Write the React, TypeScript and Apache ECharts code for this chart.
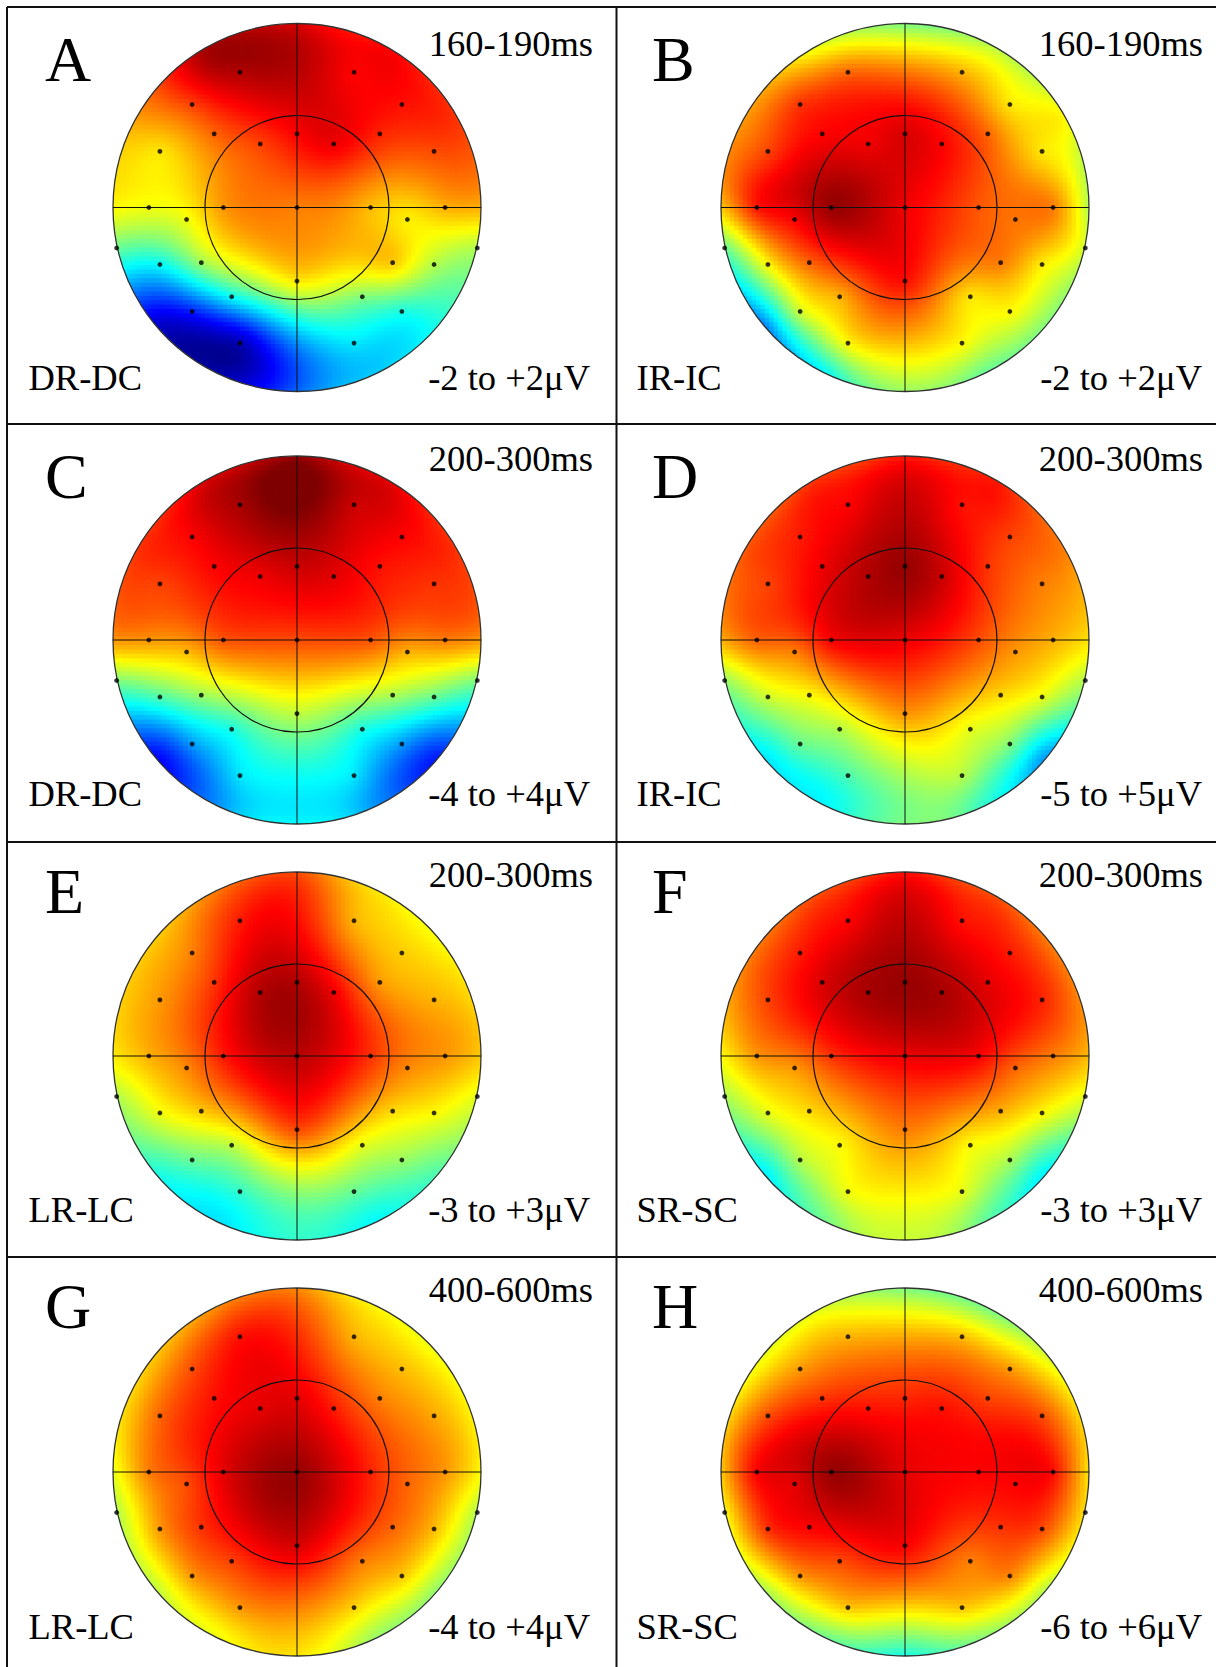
import { useEffect, useRef } from 'react';
import * as echarts from 'echarts';

/* ───── Figure size / layout ───── */
const W = 1216;
const H = 1667;
const R = 184;                       // head radius, px
const colCx = [297, 905];            // head centre x per column
const rowCy = [207.5, 640, 1056, 1472]; // head centre y per row
const colDivider = 616.5;
const rowDividers = [424, 842, 1257];
const letterX = [45, 652];
const condX = [28.5, 636.5];
const timeRight = [593, 1203];
const rangeRight = [590, 1202];
const letterBase = [81, 498, 913, 1328];
const timeBase = [56, 471, 887, 1302];
const condBase = [390, 806, 1222, 1639];
const SERIF = '"Liberation Serif", "Times New Roman", serif';

/* ───── Panel labels ───── */
const letters = ['A', 'B', 'C', 'D', 'E', 'F', 'G', 'H'];
const windows = ['160-190ms', '160-190ms', '200-300ms', '200-300ms', '200-300ms', '200-300ms', '400-600ms', '400-600ms'];
const contrasts = ['DR-DC', 'IR-IC', 'DR-DC', 'IR-IC', 'LR-LC', 'SR-SC', 'LR-LC', 'SR-SC'];
const ranges = [2, 2, 4, 5, 3, 3, 4, 6];

/* ───── Electrode montage (unit head circle, nose up) ───── */
const elecX = [-0.31, 0.31, -0.57, 0.57, -0.45, 0, 0.45, -0.2, 0.2, -0.745, 0.745, -0.805, -0.4, 0, 0.4, 0.805, -0.6, 0.6, -0.98, 0.98, -0.745, -0.52, 0.52, 0.745, 0, -0.355, 0.355, -0.57, 0.57, -0.31, 0.31];
const elecY = [0.735, 0.735, 0.56, 0.56, 0.4, 0.4, 0.4, 0.345, 0.345, 0.305, 0.305, 0, 0, 0, 0, 0, -0.065, -0.065, -0.22, -0.22, -0.31, -0.3, -0.3, -0.31, -0.4, -0.485, -0.485, -0.565, -0.565, -0.737, -0.737];
// rim samples (deg)
const rimAngles = [90, 60, 120, 30, 150, 0, 180, -40, -140, -65, -115, -90];

/* ───── Values, as a fraction of each panel's ± range ───── */
const valsA = [0.9, 0.75, 0.62, 0.72, 0.55, 0.75, 0.68, 0.62, 0.78, 0.3, 0.6, 0.22, 0.45, 0.5, 0.38, 0.4, 0.22, 0.28, -0.05, 0.1, -0.25, 0.05, 0.35, 0.1, 0.28, -0.25, 0.0, -0.7, -0.2, -0.9, -0.3];
const rimA = [0.82, 0.75, 0.92, 0.65, 0.45, 0.4, 0.25, -0.2, -0.85, -0.35, -0.9, -0.55];
const valsB = [0.55, 0.4, 0.65, 0.3, 0.75, 0.82, 0.55, 0.78, 0.75, 0.62, 0.3, 0.7, 0.95, 0.78, 0.58, 0.5, 0.75, 0.52, -0.05, 0.15, 0.25, 0.55, 0.5, 0.28, 0.72, 0.4, 0.3, 0.15, 0.25, 0.25, 0.25];
const rimB = [0.0, 0.12, 0.22, 0.25, 0.45, 0.1, 0.35, 0.0, -0.5, -0.05, -0.25, 0.05];
const valsC = [0.92, 0.85, 0.75, 0.75, 0.75, 0.85, 0.72, 0.78, 0.8, 0.62, 0.65, 0.45, 0.58, 0.6, 0.58, 0.5, 0.38, 0.4, 0.0, 0.0, -0.1, 0.05, 0.08, -0.05, 0.12, -0.2, -0.2, -0.45, -0.45, -0.3, -0.3];
const rimC = [0.95, 0.8, 0.82, 0.65, 0.65, 0.45, 0.45, -0.7, -0.75, -0.45, -0.45, -0.25];
const valsD = [0.75, 0.72, 0.7, 0.62, 0.78, 0.95, 0.65, 0.9, 0.85, 0.62, 0.5, 0.55, 0.75, 0.78, 0.6, 0.4, 0.5, 0.45, 0.05, 0.1, 0.15, 0.25, 0.32, 0.2, 0.45, 0.1, 0.2, -0.05, 0.0, -0.1, 0.1];
const rimD = [0.7, 0.7, 0.65, 0.5, 0.58, 0.3, 0.4, -0.45, -0.3, -0.15, -0.25, 0.0];
const valsE = [0.7, 0.4, 0.5, 0.35, 0.65, 0.9, 0.45, 0.9, 0.78, 0.45, 0.4, 0.4, 0.7, 0.88, 0.65, 0.45, 0.48, 0.48, 0.1, 0.2, 0.22, 0.35, 0.32, 0.25, 0.6, 0.12, 0.2, -0.05, 0.05, -0.15, -0.05];
const rimE = [0.6, 0.28, 0.48, 0.28, 0.35, 0.35, 0.28, -0.1, -0.2, -0.25, -0.3, -0.15];
const valsF = [0.75, 0.72, 0.7, 0.7, 0.82, 0.95, 0.8, 0.92, 0.92, 0.62, 0.68, 0.45, 0.65, 0.78, 0.75, 0.5, 0.45, 0.55, 0.08, 0.2, 0.2, 0.32, 0.4, 0.25, 0.5, 0.25, 0.25, 0.1, 0.08, 0.22, 0.2];
const rimF = [0.72, 0.6, 0.6, 0.5, 0.5, 0.38, 0.25, -0.28, -0.28, -0.05, -0.02, 0.15];
const valsG = [0.72, 0.4, 0.6, 0.38, 0.72, 0.8, 0.5, 0.8, 0.7, 0.55, 0.42, 0.5, 0.8, 0.95, 0.68, 0.45, 0.6, 0.55, 0.1, 0.1, 0.45, 0.65, 0.55, 0.38, 0.82, 0.62, 0.5, 0.45, 0.35, 0.45, 0.33];
const rimG = [0.48, 0.25, 0.45, 0.25, 0.33, 0.25, 0.2, 0.03, 0.12, 0.05, 0.22, 0.3];
const valsH = [0.4, 0.38, 0.45, 0.45, 0.65, 0.68, 0.62, 0.72, 0.72, 0.6, 0.6, 0.75, 0.95, 0.8, 0.75, 0.72, 0.8, 0.75, 0.25, 0.3, 0.65, 0.75, 0.65, 0.6, 0.75, 0.6, 0.5, 0.45, 0.48, 0.35, 0.35];
const rimH = [0.0, 0.0, 0.2, 0.25, 0.25, 0.3, 0.35, 0.1, 0.08, 0.0, -0.05, -0.2];

const panelVals = [valsA, valsB, valsC, valsD, valsE, valsF, valsG, valsH];
const panelRims = [rimA, rimB, rimC, rimD, rimE, rimF, rimG, rimH];

// EEGLAB-style jet
const JET = ['#00007f', '#0000ff', '#007fff', '#00ffff', '#7fff7f', '#ffff00', '#ff7f00', '#ff0000', '#7f0000'];

/* ───── Biharmonic spline (topoplot 'v4') ───── */
function fitSurface(xs: number[], ys: number[], vs: number[]) {
  const n = xs.length;
  const g = (d: number) => (d < 1e-9 ? 0 : d * d * (Math.log(d) - 1));
  const A = xs.map((_, i) => xs.map((__, j) => g(Math.hypot(xs[i] - xs[j], ys[i] - ys[j]))));
  const b = vs.slice();
  for (let k = 0; k < n; k++) {
    let p = k;
    for (let i = k + 1; i < n; i++) if (Math.abs(A[i][k]) > Math.abs(A[p][k])) p = i;
    [A[k], A[p]] = [A[p], A[k]];
    [b[k], b[p]] = [b[p], b[k]];
    for (let i = k + 1; i < n; i++) {
      const f = A[i][k] / A[k][k];
      if (!f) continue;
      for (let j = k; j < n; j++) A[i][j] -= f * A[k][j];
      b[i] -= f * b[k];
    }
  }
  const w = new Array(n).fill(0);
  for (let i = n - 1; i >= 0; i--) {
    let s = b[i];
    for (let j = i + 1; j < n; j++) s -= A[i][j] * w[j];
    w[i] = s / A[i][i];
  }
  return (x: number, y: number) => {
    let s = 0;
    for (let j = 0; j < n; j++) s += w[j] * g(Math.hypot(x - xs[j], y - ys[j]));
    return s;
  };
}

const NCELL = 84;
const STEP = 2 / NCELL;

function panelCells(i: number) {
  const rimX = rimAngles.map(a => Math.cos((a * Math.PI) / 180));
  const rimY = rimAngles.map(a => Math.sin((a * Math.PI) / 180));
  const f = fitSurface([...elecX, ...rimX], [...elecY, ...rimY], [...panelVals[i], ...panelRims[i]]);
  const out: number[][] = [];
  for (let a = 0; a < NCELL; a++) {
    for (let b = 0; b < NCELL; b++) {
      const x = -1 + (a + 0.5) * STEP;
      const y = -1 + (b + 0.5) * STEP;
      if (Math.hypot(x, y) > 1 + STEP * 0.75) continue;
      out.push([x, y, f(x, y)]);
    }
  }
  return out;
}

function buildOption() {
  const grid: any[] = [];
  const xAxis: any[] = [];
  const yAxis: any[] = [];
  const cellSeries: any[] = [];
  const overlaySeries: any[] = [];
  const dotSeries: any[] = [];
  const graphic: any[] = [];

  letters.forEach((_, i) => {
    const c = i % 2;
    const r = Math.floor(i / 2);
    grid.push({ left: colCx[c] - R, top: rowCy[r] - R, width: 2 * R, height: 2 * R });
    xAxis.push({ type: 'value', gridIndex: i, min: -1, max: 1, show: false });
    yAxis.push({ type: 'value', gridIndex: i, min: -1, max: 1, show: false });

    cellSeries.push({
      type: 'custom', xAxisIndex: i, yAxisIndex: i, silent: true, z: 1, progressive: 0,
      data: panelCells(i),
      renderItem: (_p: any, api: any) => {
        const p = api.coord([api.value(0) - STEP / 2, api.value(1) + STEP / 2]);
        const s = api.size([STEP, STEP]);
        return {
          type: 'rect',
          shape: { x: p[0], y: p[1], width: s[0] + 0.8, height: s[1] + 0.8 },
          style: { fill: api.visual('color') },
        };
      },
    });

    overlaySeries.push({
      type: 'custom', xAxisIndex: i, yAxisIndex: i, silent: true, z: 2,
      data: [[0, 0]],
      renderItem: (_p: any, api: any) => {
        const o = api.coord([0, 0]);
        const k = api.size([1, 1])[0];
        return {
          type: 'group',
          children: [
            { type: 'ring', shape: { cx: o[0], cy: o[1], r0: k, r: k + 10 }, style: { fill: '#fff' } },
            { type: 'circle', shape: { cx: o[0], cy: o[1], r: k }, style: { fill: 'none', stroke: '#333', lineWidth: 1.3 } },
            { type: 'circle', shape: { cx: o[0], cy: o[1], r: k * 0.5 }, style: { fill: 'none', stroke: '#111', lineWidth: 1.2 } },
            { type: 'line', shape: { x1: o[0] - k, y1: o[1], x2: o[0] + k, y2: o[1] }, style: { stroke: '#111', lineWidth: 1 } },
            { type: 'line', shape: { x1: o[0], y1: o[1] - k, x2: o[0], y2: o[1] + k }, style: { stroke: '#111', lineWidth: 1 } },
          ],
        };
      },
    });

    dotSeries.push({
      type: 'scatter', xAxisIndex: i, yAxisIndex: i, silent: true, z: 3,
      symbol: 'circle', symbolSize: 4.8,
      itemStyle: { color: '#000' },
      data: elecX.map((x, j) => [x, elecY[j]]),
    });

    const txt = (text: string, x: number, base: number, size: number, align: string) => ({
      type: 'text', z: 20, silent: true,
      x, y: base - size * 0.3375,
      style: {
        text, font: `${size}px ${SERIF}`, fill: '#000',
        align, textAlign: align, verticalAlign: 'middle', textVerticalAlign: 'middle',
      },
    });
    graphic.push(txt(letters[i], letterX[c], letterBase[r], 64, 'left'));
    graphic.push(txt(windows[i], timeRight[c], timeBase[r], 36.5, 'right'));
    graphic.push(txt(contrasts[i], condX[c], condBase[r], 36.5, 'left'));
    graphic.push(txt(`-${ranges[i]} to +${ranges[i]}\u03bcV`, rangeRight[c], condBase[r], 36.5, 'right'));
  });

  const rule = (x1: number, y1: number, x2: number, y2: number) => ({
    type: 'line', z: 30, silent: true,
    shape: { x1, y1, x2, y2 },
    style: { stroke: '#111', lineWidth: 2 },
  });
  graphic.push(rule(7, 7, W, 7));
  graphic.push(rule(7, 7, 7, H));
  graphic.push(rule(colDivider, 7, colDivider, H));
  rowDividers.forEach(y => graphic.push(rule(7, y, W, y)));

  return {
    animation: false,
    backgroundColor: '#fff',
    grid, xAxis, yAxis,
    visualMap: {
      type: 'continuous', show: false, min: -1, max: 1, dimension: 2,
      seriesIndex: cellSeries.map((_, i) => i),
      inRange: { color: JET },
    },
    series: [...cellSeries, ...overlaySeries, ...dotSeries],
    graphic,
  };
}

export default function App() {
  const ref = useRef<HTMLDivElement>(null);
  useEffect(() => {
    document.body.style.margin = '0';
    const chart = echarts.init(ref.current!, null, { renderer: 'svg' });
    chart.setOption(buildOption());
    return () => { chart.dispose(); };
  }, []);
  return <div ref={ref} style={{ width: W, height: H, background: '#fff' }} />;
}
